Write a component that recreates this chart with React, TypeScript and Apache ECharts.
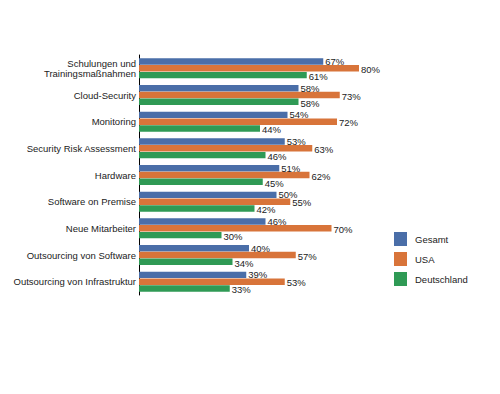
import React, { useEffect, useRef } from "react";
import * as echarts from "echarts";

const categories = [
  "Schulungen und\nTrainingsmaßnahmen",
  "Cloud-Security",
  "Monitoring",
  "Security Risk Assessment",
  "Hardware",
  "Software on Premise",
  "Neue Mitarbeiter",
  "Outsourcing von Software",
  "Outsourcing von Infrastruktur",
];
const gesamt = [67, 58, 54, 53, 51, 50, 46, 40, 39];
const usa = [80, 73, 72, 63, 62, 55, 70, 57, 53];
const deutschland = [61, 58, 44, 46, 45, 42, 30, 34, 33];
const seriesNames = ["Gesamt", "USA", "Deutschland"];
const colors = ["#4a6ea8", "#d8743a", "#2f9a55"];

export default function App() {
  const ref = useRef<HTMLDivElement>(null);
  useEffect(() => {
    if (!ref.current) return;
    const chart = echarts.init(ref.current, null, { renderer: "svg" });
    const font = "Liberation Sans, Arial, Helvetica, sans-serif";
    const mk = (name: string, data: number[], color: string, dy: number) => ({
      name,
      type: "bar",
      data,
      itemStyle: { color },
      barGap: "5%",
      barCategoryGap: "25%",
      label: {
        show: true,
        position: "right",
        distance: 2,
        offset: [0, dy],
        formatter: "{c}%",
        fontSize: 9.5,
        fontFamily: font,
        color: "#222",
      },
    });
    chart.setOption({
      animation: false,
      textStyle: { fontFamily: font },
      grid: { left: 139, top: 55, width: 275, height: 240, outerBoundsMode: "none", containLabel: false },
      xAxis: { type: "value", min: 0, max: 100, show: false },
      yAxis: {
        type: "category",
        data: categories,
        inverse: true,
        axisLine: { show: true, lineStyle: { color: "#000", width: 1 } },
        axisTick: { show: false },
        axisLabel: { fontSize: 9.5, color: "#222", margin: 3, lineHeight: 10, fontFamily: font },
      },
      legend: {
        orient: "vertical",
        left: 389,
        top: 227,
        icon: "rect",
        itemWidth: 13,
        itemHeight: 14,
        itemGap: 6,
        data: seriesNames,
        textStyle: { fontSize: 9.5, color: "#222", fontFamily: font, padding: [0, 0, 0, 3] },
      },
      series: [
        mk(seriesNames[0], gesamt, colors[0], 0),
        mk(seriesNames[1], usa, colors[1], 1),
        mk(seriesNames[2], deutschland, colors[2], 1.5),
      ],
    });
    return () => chart.dispose();
  }, []);
  return (
    <div
      ref={ref}
      style={{ position: "fixed", left: 0, top: 0, width: 500, height: 394, background: "#fff" }}
    />
  );
}
